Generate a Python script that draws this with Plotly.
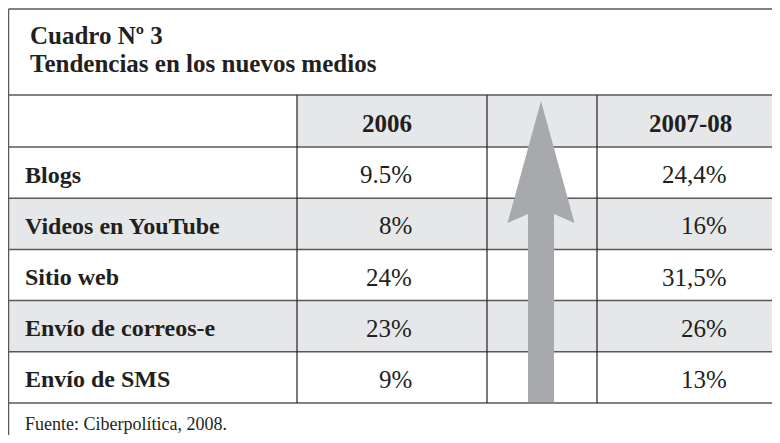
import plotly.graph_objects as go

# table content
title_lines = ["Cuadro Nº 3", "Tendencias en los nuevos medios"]
col_headers = ["2006", "2007-08"]
categories = ["Blogs", "Videos en YouTube", "Sitio web", "Envío de correos-e", "Envío de SMS"]
values_2006 = ["9.5%", "8%", "24%", "23%", "9%"]
values_2007_08 = ["24,4%", "16%", "31,5%", "26%", "13%"]
source = "Fuente: Ciberpolítica, 2008."

W, H = 780, 443
PAGE_OFF = 8  # browser body margin
FONT = "Liberation Serif"
INK = "#231f20"
SHADE = "#e6e7e8"
ARROW = "#a7a9ac"
HLINE = "#58595b"

# layout grid (page pixels)
left, top = 8.5, 9
title_bottom = 95
head_bottom = 147
row_h = 51.2
col_edges = [left, 297, 487, 597, W + 5]
n = len(categories)
table_bottom = head_bottom + n * row_h


def row_top(i):
    return head_bottom + i * row_h


def txt(x, y, text, size, anchor, bold=False):
    return dict(x=x, y=y, text=f"<b>{text}</b>" if bold else text, xanchor=anchor, yanchor="middle",
                xref="x", yref="y", showarrow=False,
                font=dict(family=FONT, size=size, color=INK))


fig = go.Figure()
shapes = []

# shaded cells: header row (data columns) and alternate rows
shapes.append(dict(type="rect", x0=col_edges[1], x1=col_edges[-1], y0=title_bottom, y1=head_bottom,
                   fillcolor=SHADE, line_width=0, layer="below"))
for i in range(n):
    if i % 2 == 1:
        shapes.append(dict(type="rect", x0=left, x1=col_edges[-1], y0=row_top(i), y1=row_top(i + 1),
                           fillcolor=SHADE, line_width=0, layer="below"))

# horizontal rules
for y in [top, title_bottom, head_bottom] + [row_top(i + 1) for i in range(n)]:
    shapes.append(dict(type="line", x0=left, x1=col_edges[-1], y0=y, y1=y,
                       line=dict(color=HLINE, width=1.5), layer="below"))
# left border full height, column dividers within table
shapes.append(dict(type="line", x0=left, x1=left, y0=top, y1=H + 5,
                   line=dict(color=HLINE, width=1.5), layer="below"))
for x in col_edges[1:4]:
    shapes.append(dict(type="line", x0=x, x1=x, y0=title_bottom, y1=table_bottom,
                       line=dict(color=INK, width=1.2), layer="below"))

# upward arrow in the middle column
ax = 541
tip, head_base, head_inner = 101, 223, 214
head_half, shaft_half = 33.5, 13
arrow_x = [ax, ax + head_half, ax + shaft_half, ax + shaft_half, ax - shaft_half, ax - shaft_half, ax - head_half, ax]
arrow_y = [tip, head_base, head_inner, table_bottom - 1, table_bottom - 1, head_inner, head_base, tip]
fig.add_trace(go.Scatter(x=arrow_x, y=arrow_y, mode="lines", fill="toself", fillcolor=ARROW,
                         line=dict(width=0, color=ARROW), hoverinfo="skip", showlegend=False))

annotations = []
for k, t in enumerate(title_lines):
    annotations.append(txt(28, 35 + k * 28, t, 25, "left", bold=True))
for x, t in zip([414, 734], col_headers):
    annotations.append(txt(x, (title_bottom + head_bottom) / 2 + 2, t, 25, "right", bold=True))
for i, (cat, a, b) in enumerate(zip(categories, values_2006, values_2007_08)):
    yc = row_top(i) + row_h / 2 + 2
    annotations.append(txt(23, yc, cat, 24, "left", bold=True))
    annotations.append(txt(414, yc, a, 25, "right"))
    annotations.append(txt(729, yc, b, 25, "right"))
annotations.append(txt(23, table_bottom + 21, source, 18, "left"))

fig.update_layout(
    width=W - PAGE_OFF,
    height=H - 2 * PAGE_OFF,
    margin=dict(l=0, r=0, t=0, b=0),
    paper_bgcolor="white",
    plot_bgcolor="white",
    font=dict(family=FONT, color=INK),
    xaxis=dict(range=[PAGE_OFF, W], visible=False, fixedrange=True),
    yaxis=dict(range=[H - PAGE_OFF, PAGE_OFF], visible=False, fixedrange=True),
    shapes=shapes,
    annotations=annotations,
    showlegend=False,
)

fig.write_html("out.html", config={"displayModeBar": False})
